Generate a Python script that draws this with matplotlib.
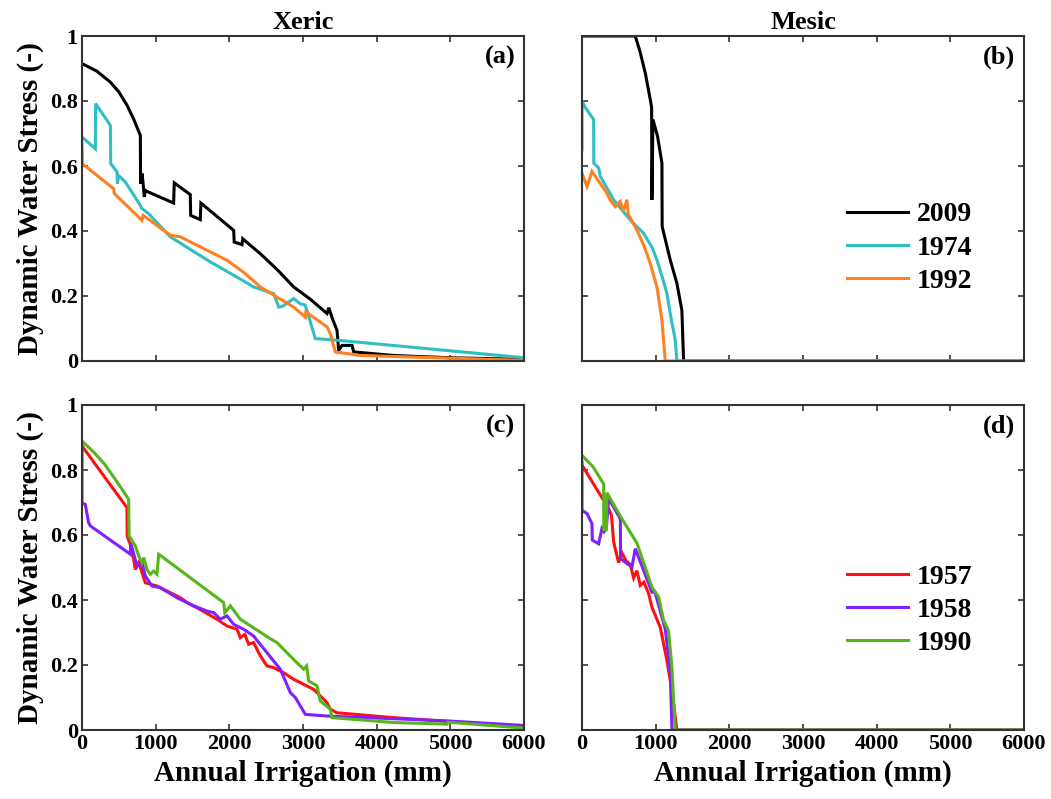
import matplotlib
matplotlib.use("Agg")
import matplotlib.pyplot as plt

plt.rcParams["font.family"] = ["Liberation Serif", "DejaVu Serif"]
plt.rcParams["font.weight"] = "bold"

# -----------------------------
# Data
# -----------------------------
# Panel (a) Xeric, top row years
xa_2009 = [0, 200, 385, 500, 611, 700, 792, 795, 815, 830, 845, 860, 880, 1244, 1252, 1470,
           1475, 1606, 1614, 2059, 2066, 2172, 2182, 2421, 2650, 2873, 3100, 3326, 3350,
           3400, 3462, 3484, 3530, 3665, 3688, 4231, 5000, 6000]
ya_2009 = [0.915, 0.892, 0.858, 0.828, 0.787, 0.745, 0.694, 0.546, 0.577, 0.545, 0.505,
           0.525, 0.522, 0.486, 0.548, 0.512, 0.448, 0.435, 0.486, 0.402, 0.366, 0.358,
           0.376, 0.330, 0.281, 0.228, 0.190, 0.146, 0.164, 0.130, 0.094, 0.033, 0.048,
           0.048, 0.028, 0.017, 0.010, 0.005]

xa_1974 = [0, 181, 185, 385, 390, 475, 480, 500, 588, 792, 810, 905, 1199, 1742, 2104,
           2330, 2602, 2670, 2720, 2873, 2964, 3030, 3100, 3167, 3462, 6000]
ya_1974 = [0.689, 0.653, 0.792, 0.725, 0.607, 0.582, 0.546, 0.570, 0.551, 0.479, 0.470,
           0.453, 0.382, 0.305, 0.258, 0.228, 0.207, 0.166, 0.168, 0.192, 0.176, 0.172,
           0.120, 0.069, 0.064, 0.010]

xa_1992 = [0, 5, 430, 440, 814, 830, 1199, 1335, 1606, 1968, 2200, 2421, 2650, 2873, 3032,
           3040, 3326, 3370, 3439, 3778, 6000]
ya_1992 = [0.669, 0.607, 0.530, 0.515, 0.433, 0.448, 0.387, 0.382, 0.351, 0.310, 0.272,
           0.228, 0.196, 0.166, 0.135, 0.151, 0.105, 0.084, 0.028, 0.017, 0.002]

# Panel (b) Mesic, top row years
xb_2009 = [0, 723, 790, 860, 927, 945, 949, 963, 1026, 1085, 1088, 1198, 1288, 1356, 1379,
           6000]
yb_2009 = [1.0, 1.0, 0.950, 0.885, 0.804, 0.780, 0.496, 0.743, 0.691, 0.609, 0.414, 0.311,
           0.239, 0.156, 0.0, 0.0]

xb_1974 = [0, 0, 45, 158, 160, 226, 249, 430, 655, 836, 950, 1017, 1100, 1153, 1198, 1266,
           1288, 6000]
yb_1974 = [0.650, 0.800, 0.780, 0.743, 0.609, 0.594, 0.568, 0.496, 0.434, 0.393, 0.350,
           0.311, 0.250, 0.208, 0.146, 0.064, 0.0, 0.0]

xb_1992 = [0, 68, 135, 181, 339, 380, 452, 520, 560, 610, 630, 746, 840, 927, 1017, 1085,
           1130, 6000]
yb_1992 = [0.578, 0.537, 0.583, 0.568, 0.516, 0.496, 0.475, 0.491, 0.460, 0.496, 0.450,
           0.403, 0.355, 0.300, 0.228, 0.126, 0.0, 0.0]

# Panel (c) Xeric, bottom row years
xc_1957 = [0, 611, 613, 679, 724, 770, 860, 1018, 1335, 1425, 1561, 1833, 1968, 2104, 2149,
           2210, 2262, 2330, 2421, 2511, 2600, 2738, 2873, 3145, 3235, 3326, 3371, 3462,
           4231, 6000]
yc_1957 = [0.874, 0.684, 0.597, 0.556, 0.494, 0.515, 0.453, 0.443, 0.407, 0.392, 0.376,
           0.341, 0.320, 0.310, 0.284, 0.294, 0.264, 0.269, 0.228, 0.197, 0.192, 0.176,
           0.156, 0.125, 0.105, 0.084, 0.064, 0.053, 0.038, 0.010]

xc_1958 = [0, 0, 45, 90, 113, 656, 660, 747, 814, 860, 950, 1063, 1290, 1516, 1697, 1787,
           1878, 1968, 2059, 2195, 2330, 2511, 2692, 2828, 2896, 2964, 3032, 3326, 4955,
           6000]
yc_1958 = [0.874, 0.699, 0.694, 0.638, 0.628, 0.541, 0.576, 0.505, 0.515, 0.474, 0.443,
           0.438, 0.407, 0.382, 0.366, 0.361, 0.341, 0.351, 0.325, 0.310, 0.289, 0.238,
           0.187, 0.115, 0.100, 0.074, 0.048, 0.043, 0.028, 0.014]

xc_1990 = [0, 150, 300, 450, 633, 640, 724, 770, 814, 840, 882, 928, 973, 1018, 1041, 1923,
           1940, 2014, 2149, 2534, 2647, 2873, 3009, 3050, 3077, 3190, 3235, 3371, 3394,
           4231, 4955, 4965, 6000]
yc_1990 = [0.889, 0.857, 0.820, 0.772, 0.710, 0.597, 0.566, 0.536, 0.515, 0.530, 0.494,
           0.479, 0.489, 0.479, 0.541, 0.392, 0.361, 0.382, 0.341, 0.284, 0.269, 0.217,
           0.187, 0.197, 0.151, 0.136, 0.089, 0.064, 0.038, 0.023, 0.018, 0.024, 0.006]

# Panel (d) Mesic, bottom row years
xd_1957 = [0, 362, 400, 430, 470, 497, 542, 600, 655, 701, 745, 791, 840, 904, 949, 1062,
           1153, 1221, 1288, 6000]
yd_1957 = [0.815, 0.681, 0.660, 0.578, 0.540, 0.515, 0.545, 0.520, 0.509, 0.468, 0.490,
           0.445, 0.455, 0.420, 0.378, 0.316, 0.214, 0.121, 0.0, 0.0]

xd_1958 = [0, 0, 68, 135, 140, 226, 271, 300, 330, 362, 520, 525, 678, 723, 949, 990, 1130,
           1198, 1221, 6000]
yd_1958 = [0.825, 0.676, 0.666, 0.635, 0.584, 0.573, 0.620, 0.610, 0.620, 0.712, 0.650,
           0.527, 0.501, 0.558, 0.424, 0.424, 0.311, 0.178, 0.0, 0.0]

xd_1990 = [0, 150, 294, 296, 330, 339, 520, 746, 949, 1040, 1108, 1175, 1220, 1266, 6000]
yd_1990 = [0.845, 0.810, 0.757, 0.616, 0.616, 0.730, 0.658, 0.575, 0.440, 0.409, 0.337,
           0.306, 0.193, 0.0, 0.0]

top_years = ["2009", "1974", "1992"]
bottom_years = ["1957", "1958", "1990"]
top_colors = ["black", "#2dbfc2", "#ff8020"]
bottom_colors = ["#ff1010", "#8020ff", "#55b51a"]

x_ticks = [0, 1000, 2000, 3000, 4000, 5000, 6000]
y_ticks = [0, 0.2, 0.4, 0.6, 0.8, 1]
y_tick_labels = ["0", "0.2", "0.4", "0.6", "0.8", "1"]

# -----------------------------
# Figure
# -----------------------------
fig = plt.figure(figsize=(10.51, 7.99), dpi=100)
W, H = 1051, 799
boxes = {
    "a": (82, 36), "b": (582, 36),
    "c": (82, 405), "d": (582, 405),
}
axw, axh = 442, 325
axes = {}
for k, (l, t) in boxes.items():
    axes[k] = fig.add_axes([l / W, (H - t - axh) / H, axw / W, axh / H])

panel_data = {
    "a": [(xa_2009, ya_2009), (xa_1974, ya_1974), (xa_1992, ya_1992)],
    "b": [(xb_2009, yb_2009), (xb_1974, yb_1974), (xb_1992, yb_1992)],
    "c": [(xc_1957, yc_1957), (xc_1958, yc_1958), (xc_1990, yc_1990)],
    "d": [(xd_1957, yd_1957), (xd_1958, yd_1958), (xd_1990, yd_1990)],
}

for k, ax in axes.items():
    top = k in ("a", "b")
    years = top_years if top else bottom_years
    colors = top_colors if top else bottom_colors
    for (x, y), yr, c in zip(panel_data[k], years, colors):
        ax.plot(x, y, color=c, lw=2.2, label=yr, solid_joinstyle="miter")

    ax.set_xlim(0, 6000)
    ax.set_ylim(0, 1)
    ax.set_xticks(x_ticks)
    ax.set_yticks(y_ticks)
    ax.tick_params(direction="in", top=True, right=True, length=4, width=1.2,
                   color="#333333", labelsize=16, pad=3)
    for s in ax.spines.values():
        s.set_linewidth(1.5)
        s.set_color("#333333")

    if k in ("a", "c"):
        ax.set_yticklabels(y_tick_labels)
        ax.set_ylabel("Dynamic Water Stress (-)", fontsize=21, fontweight="bold",
                      labelpad=4)
    else:
        ax.set_yticklabels([])
    if top:
        ax.set_xticklabels([])
    else:
        ax.set_xticklabels([str(v) for v in x_ticks])
        ax.set_xlabel("Annual Irrigation (mm)", fontsize=21, fontweight="bold",
                      labelpad=4)

    ax.text(0.98, 0.935, "(%s)" % k, transform=ax.transAxes, ha="right", va="center",
            fontsize=19, fontweight="bold")

axes["a"].set_title("Xeric", fontsize=19, fontweight="bold", pad=5)
axes["b"].set_title("Mesic", fontsize=19, fontweight="bold", pad=5)

for k, yc in (("b", 0.348), ("d", 0.369)):
    axes[k].legend(loc="center left", bbox_to_anchor=(0.6, yc), frameon=False,
                   handlelength=2.2, handletextpad=0.3,
                   labelspacing=0.28, borderpad=0, borderaxespad=0,
                   prop={"weight": "bold", "size": 20})

fig.savefig("out.png", dpi=100)
